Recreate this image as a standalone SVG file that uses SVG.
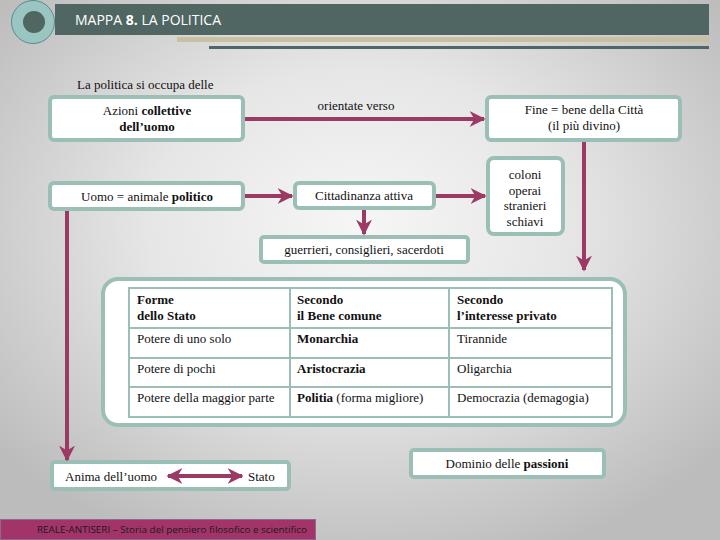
<svg xmlns="http://www.w3.org/2000/svg" width="720" height="540" viewBox="0 0 720 540" font-family="'Liberation Serif', 'Times New Roman', serif">
<defs>
<radialGradient id="bg" cx="0.5" cy="0.42" r="0.65">
<stop offset="0" stop-color="#f6f6f6"/>
<stop offset="0.45" stop-color="#e6e6e6"/>
<stop offset="1" stop-color="#bcbcbc"/>
</radialGradient>
<marker id="ah" viewBox="0 0 10 10" refX="9" refY="5" markerWidth="4" markerHeight="4" orient="auto-start-reverse" markerUnits="strokeWidth">
<path d="M0,0 L10,5 L0,10 L3,5 Z" fill="#9b3a64"/>
</marker>
</defs>
<style>
.box{fill:#ffffff;stroke:#9bbfb7;stroke-width:4}
.t{font-size:13px;fill:#111}
.c{text-anchor:middle}
.b{font-weight:bold}
.conn{stroke:#9b3a64;stroke-width:4;fill:none}
.grid{stroke:#9bbfb7;stroke-width:2;fill:none}
</style>
<rect x="0" y="0" width="720" height="540" fill="url(#bg)"/>
<g id="header">
<rect x="55" y="4" width="654" height="31" fill="#506662"/>
<rect x="177" y="37" width="532" height="5" fill="#c8c0a0"/>
<rect x="209" y="46" width="500" height="3" fill="#506662"/>
<circle cx="33" cy="22" r="21.5" fill="#9ac6c2" stroke="#5a8a90" stroke-width="1"/>
<circle cx="34" cy="22" r="11" fill="#4f6661"/>
<text x="75" y="25" font-family="'Open Sans', 'Liberation Sans', sans-serif" font-size="14" fill="#ffffff">MAPPA <tspan font-weight="bold">8.</tspan> LA POLITICA</text>
</g>
<text class="t" x="77" y="89">La politica si occupa delle</text>
<g id="azioni">
<rect class="box" x="50" y="97" width="193" height="43" rx="4"/>
<text class="t c" x="147" y="115">Azioni <tspan class="b">collettive</tspan></text>
<text class="t c b" x="147" y="131">dell’uomo</text>
</g>
<g id="fine">
<rect class="box" x="487" y="97" width="193" height="43" rx="4"/>
<text class="t c" x="584" y="114">Fine = bene della Città</text>
<text class="t c" x="584" y="130">(il più divino)</text>
</g>
<g id="uomo">
<rect class="box" x="50" y="183" width="193" height="26" rx="4"/>
<text class="t c" x="147" y="201">Uomo = animale <tspan class="b">politico</tspan></text>
</g>
<g id="cittadinanza">
<rect class="box" x="295" y="183" width="139" height="25" rx="4"/>
<text class="t c" x="364" y="200">Cittadinanza attiva</text>
</g>
<g id="coloni">
<rect class="box" x="488" y="158" width="75" height="76" rx="6"/>
<text class="t c" x="525" y="179">coloni</text>
<text class="t c" x="525" y="195">operai</text>
<text class="t c" x="525" y="210">stranieri</text>
<text class="t c" x="525" y="226">schiavi</text>
</g>
<g id="guerrieri">
<rect class="box" x="261" y="237" width="207" height="25" rx="3"/>
<text class="t c" x="364" y="254">guerrieri, consiglieri, sacerdoti</text>
</g>
<g id="forme">
<rect class="box" x="103" y="279" width="522" height="146" rx="15"/>
<rect class="grid" x="129" y="288" width="483" height="129"/>
<line class="grid" x1="129" y1="328" x2="612" y2="328"/>
<line class="grid" x1="129" y1="358" x2="612" y2="358"/>
<line class="grid" x1="129" y1="387" x2="612" y2="387"/>
<line class="grid" x1="290" y1="288" x2="290" y2="417"/>
<line class="grid" x1="449" y1="288" x2="449" y2="417"/>
<text class="t b" x="137" y="304">Forme</text>
<text class="t b" x="137" y="320">dello Stato</text>
<text class="t b" x="297" y="304">Secondo</text>
<text class="t b" x="297" y="320">il Bene comune</text>
<text class="t b" x="457" y="304">Secondo</text>
<text class="t b" x="457" y="320">l’interesse privato</text>
<text class="t" x="137" y="343">Potere di uno solo</text>
<text class="t b" x="297" y="343">Monarchia</text>
<text class="t" x="457" y="343">Tirannide</text>
<text class="t" x="137" y="373">Potere di pochi</text>
<text class="t b" x="297" y="373">Aristocrazia</text>
<text class="t" x="457" y="373">Oligarchia</text>
<text class="t" x="137" y="402">Potere della maggior parte</text>
<text class="t" x="297" y="402"><tspan class="b">Politia</tspan> (forma migliore)</text>
<text class="t" x="457" y="402">Democrazia (demagogia)</text>
</g>
<g id="anima">
<rect class="box" x="52" y="462" width="237" height="27" rx="3"/>
<text class="t" x="65" y="481">Anima dell’uomo</text>
<text class="t" x="248" y="481">Stato</text>
</g>
<g id="dominio">
<rect class="box" x="411" y="450" width="193" height="27" rx="3"/>
<text class="t c" x="507" y="468">Dominio delle <tspan class="b">passioni</tspan></text>
</g>
<g id="connectors">
<line class="conn" x1="245" y1="119" x2="484" y2="119" marker-end="url(#ah)"/>
<line class="conn" x1="584" y1="142" x2="584" y2="270" marker-end="url(#ah)"/>
<line class="conn" x1="245" y1="196" x2="292" y2="196" marker-end="url(#ah)"/>
<line class="conn" x1="436" y1="196" x2="485" y2="196" marker-end="url(#ah)"/>
<line class="conn" x1="364" y1="210" x2="364" y2="234" marker-end="url(#ah)"/>
<line class="conn" x1="67" y1="211" x2="67" y2="460" marker-end="url(#ah)"/>
<line class="conn" x1="168" y1="476" x2="242" y2="476" marker-start="url(#ah)" marker-end="url(#ah)"/>
<text class="t" x="356" y="110" text-anchor="middle" font-size="12">orientate verso</text>
</g>
<g id="footer">
<rect x="0" y="519" width="316" height="21" fill="#a3346a"/>
<rect x="0.5" y="519.5" width="315" height="20" fill="none" stroke="#8a6a8e" stroke-width="1"/>
<text x="37" y="533" font-family="'Open Sans', 'Liberation Sans', sans-serif" font-size="9.5" fill="#1a1a1a" textLength="270" lengthAdjust="spacingAndGlyphs">REALE-ANTISERI – Storia del pensiero filosofico e scientifico</text>
</g>
</svg>
